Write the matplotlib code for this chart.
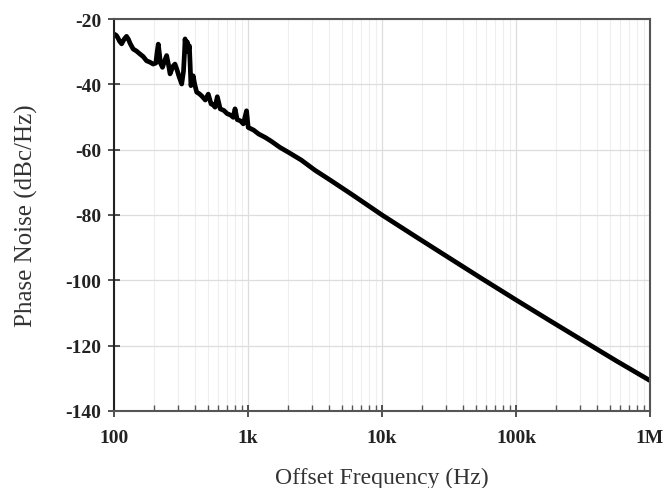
import matplotlib
matplotlib.use("Agg")
import matplotlib.pyplot as plt
from matplotlib.ticker import FixedLocator, LogLocator, NullFormatter

plt.rcParams["axes.unicode_minus"] = False

freq_hz = [100, 104, 107, 110, 114, 119, 124, 128, 132, 139, 147, 156, 165, 175,
           185, 196, 205, 210, 214, 218, 222, 230, 240, 247, 255, 262, 275, 285,
           295, 305, 320, 330, 336, 339, 343, 347, 352, 358, 365, 370, 375, 382,
           390, 400, 414, 430, 450, 480, 505, 530, 550, 567, 590, 620, 660, 700,
           740, 776, 800, 830, 880, 922, 975, 1003, 1100, 1200, 1350, 1500, 1730,
           2000, 2500, 3160, 4100, 6000, 10000, 17800, 31600, 56200, 100000,
           178000, 316000, 562000, 1000000]
phase_noise_dbc = [-24.6, -25.0, -25.8, -26.8, -27.6, -26.2, -25.3, -26.2, -27.5,
                   -29.2, -29.8, -30.7, -31.5, -32.8, -33.2, -33.8, -33.5, -30.0,
                   -27.7, -30.5, -33.5, -34.8, -32.5, -31.2, -34.0, -36.8, -34.5,
                   -33.8, -35.5, -37.5, -39.9, -36.0, -30.0, -26.1, -28.0, -29.0,
                   -27.0, -30.0, -28.2, -34.0, -40.4, -39.0, -37.4, -40.0, -42.4,
                   -42.8, -43.5, -44.8, -43.0, -46.0, -46.3, -47.0, -43.8, -47.5,
                   -48.0, -49.0, -49.4, -50.1, -47.5, -50.8, -51.2, -52.1, -48.1,
                   -53.2, -54.0, -55.2, -56.3, -57.5, -59.3, -60.8, -63.2, -66.3,
                   -69.3, -73.8, -80.0, -86.6, -93.1, -99.6, -106.0, -112.3,
                   -118.5, -124.7, -130.7]

y_ticks = [-140, -120, -100, -80, -60, -40, -20]
x_ticks = [100, 1000, 10000, 100000, 1000000]
x_tick_labels = ["100", "1k", "10k", "100k", "1M"]

fig = plt.figure(figsize=(6.64, 4.89), dpi=100)
ax = fig.add_axes([0.1717, 0.1575, 0.8073, 0.8016])

ax.plot(freq_hz, phase_noise_dbc, color="black", lw=3.4, solid_joinstyle="round")
ax.set_xscale("log")
ax.set_xlim(100, 1e6)
ax.set_ylim(-140, -20)

ax.xaxis.set_major_locator(FixedLocator(x_ticks))
ax.set_xticklabels(x_tick_labels)
ax.xaxis.set_minor_locator(LogLocator(base=10, subs=range(2, 10)))
ax.xaxis.set_minor_formatter(NullFormatter())
ax.set_yticks(y_ticks)

ax.grid(True, which="major", axis="both", color="#dddddd", lw=0.9)
ax.grid(True, which="minor", axis="x", color="#eeeeee", lw=0.8)
ax.set_axisbelow(True)

for s in ax.spines.values():
    s.set_color("#555555")
    s.set_linewidth(1.5)
ax.spines["left"].set_color("#222222")

ax.tick_params(axis="both", which="major", direction="inout", length=8,
               width=1.2, color="#333333")
ax.tick_params(axis="x", which="major", pad=9)
ax.tick_params(axis="y", which="major", pad=5)
ax.tick_params(axis="x", which="minor", direction="in", length=4,
               width=1.0, color="#555555")

for lab in ax.get_xticklabels() + ax.get_yticklabels():
    lab.set_fontfamily("Liberation Serif")
    lab.set_fontweight("bold")
    lab.set_fontsize(14)
    lab.set_color("#222222")

ax.set_xlabel("Offset Frequency (Hz)", family="Liberation Serif", fontsize=17,
              color="#333333", labelpad=15)
ax.set_ylabel("Phase Noise (dBc/Hz)", family="Liberation Serif", fontsize=18,
              color="#333333", labelpad=20)

fig.savefig("out.png", dpi=100)
